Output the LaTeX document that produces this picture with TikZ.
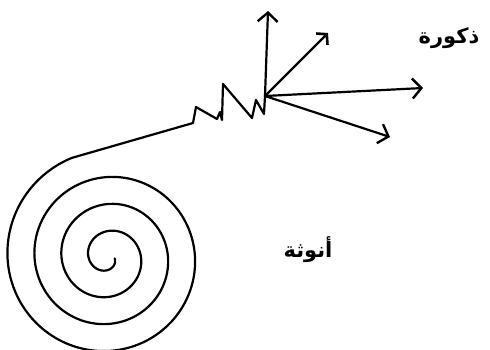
\documentclass[tikz,border=0pt]{standalone}
\usepackage{fontspec}
\usetikzlibrary{arrows.meta}
\newfontfamily\arabicfont[Script=Arabic]{DejaVu Sans}
\TeXXeTstate=1
\begin{document}
\begin{tikzpicture}[x=1pt,y=-1pt,
  ink/.style={line width=2.2pt, line join=round, line cap=round},
  arr/.style={ink, -{Straight Barb[length=9pt,width=20pt,line width=2.4pt]}},
  corner/.style={ink, -{Straight Barb[length=7pt,width=16pt,line width=2.6pt]}},
  lbl/.style={font=\arabicfont\bfseries\fontsize{21}{24}\selectfont, inner sep=0pt}]
\useasboundingbox (0,0) rectangle (490,350);
% zigzag points
\coordinate (z1) at (193,123);
\coordinate (z2) at (196,107);
\coordinate (z3) at (217,119);
\coordinate (z4) at (220,112);
\coordinate (z5) at (222,120);
\coordinate (z6) at (223,84);
\coordinate (z7) at (252,118);
\coordinate (z8) at (256,100);
\coordinate (z9) at (264,114);
\coordinate (hub) at (265,96);
% arrow tips
\coordinate (tup) at (268,11);
\coordinate (tur) at (328,33);
\coordinate (tr) at (423,88);
\coordinate (tdr) at (390,137);
% spiral and zigzag
\draw[ink] plot[domain=-80:1240, samples=400, smooth, variable=\t]
  ({108 - (12.75+0.075*\t)*sin(\t)}, {257.25 + (12.75+0.075*\t)*cos(\t)})
  -- (z1) -- (z2) -- (z3) -- (z4) -- (z5) -- (z6) -- (z7) -- (z8) -- (z9) -- (hub);
% arrows
\draw[arr] (hub) -- (tup);
\draw[corner] (hub) -- (tur);
\draw[arr] (hub) -- (tr);
\draw[arr] (hub) -- (tdr);
% labels
\node[lbl] (male) at (449,38) {\beginR ذكورة\endR};
\node[lbl] (female) at (308,250) {\beginR أنوثة\endR};
\end{tikzpicture}
\end{document}
